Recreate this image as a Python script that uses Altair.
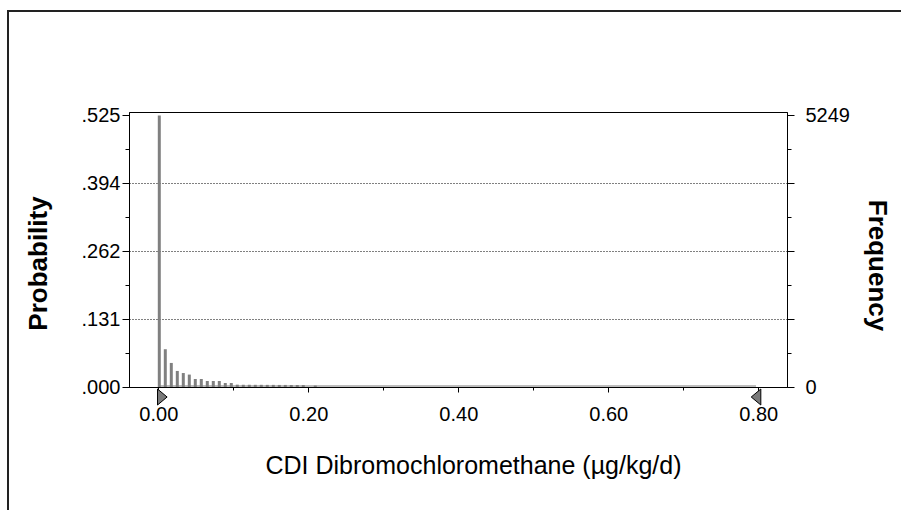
import altair as alt
import pandas as pd

# ---- data ----
trials = 10000
counts = [5249, 730, 465, 310, 270, 240, 155, 155, 116, 116, 116, 77, 77, 45,
          43, 43, 42, 42, 41, 41, 40, 40, 39, 39, 38, 0, 28]
first_center = 0.0013
bin_width = 0.008
range_min = 0.0
range_max = 0.797
x_title = "CDI Dibromochloromethane (\u00b5g/kg/d)"
y_title_left = "Probability"
y_title_right = "Frequency"
y_max_prob = 0.5315
x_domain = [-0.0391, 0.8383]

centers = [first_center + i * bin_width for i in range(len(counts))]
df = pd.DataFrame({"center": centers, "count": counts})
df["prob"] = df["count"] / trials

half_p = counts[0] / trials / 8
half_f = counts[0] / 8
font = "Liberation Sans"

x_scale = alt.Scale(domain=x_domain, nice=False, zero=False, padding=0)
x_axis = alt.Axis(
    values=[i / 10 for i in range(9)],
    labelExpr="round(datum.value*10) % 2 == 0 ? format(datum.value, '.2f') : ''",
    tickSize={"condition": {"test": "round(datum.value*10) % 2 == 1", "value": 3}, "value": 5},
    grid=False, domainColor="black", tickColor="black", labelColor="black",
    labelFont=font, labelFontSize=20, labelPadding=12, labelBaseline="top",
    title=x_title, titleFont=font, titleFontSize=25, titleFontWeight="normal",
    titleColor="black", titleX=344, titleY=86, titleAlign="center",
    titleBaseline="alphabetic", labelFlush=False, labelOverlap=False,
)
x_enc = alt.X("center:Q", scale=x_scale, axis=x_axis, title=x_title)

left_axis = alt.Axis(
    orient="left",
    values=[half_p * k for k in range(9)],
    labelExpr=f"round(datum.value/{half_p}) % 2 == 1 ? '' : replace(format(datum.value, '.3f'), '0.', '.')",
    tickSize={"condition": {"test": f"round(datum.value/{half_p}) % 2 == 1", "value": 4}, "value": 7},
    grid=True, gridColor="black", gridDash=[1, 2], gridWidth=1,
    gridOpacity={"condition": {"test": f"indexof([2,4,6], round(datum.value/{half_p})) >= 0", "value": 1}, "value": 0},
    domainColor="black", tickColor="black", labelColor="black",
    labelFont=font, labelFontSize=20, labelPadding=2, labelOverlap=False, labelFlush=False,
    title=y_title_left, titleFont=font, titleFontSize=26, titleFontWeight="bold",
    titleColor="black", titleAngle=270, titleX=-91, titleY=151,
    titleAlign="center", titleBaseline="middle",
)

right_axis = alt.Axis(
    orient="right",
    values=[half_f * k for k in range(9)],
    labelExpr=f"round(datum.value/{half_f}) % 8 == 0 ? format(datum.value, 'd') : ''",
    tickSize={"condition": {"test": f"round(datum.value/{half_f}) % 2 == 1", "value": 4}, "value": 7},
    grid=False, domainColor="black", tickColor="black", labelColor="black",
    labelFont=font, labelFontSize=20, labelPadding=11, labelOverlap=False, labelFlush=False,
    title=y_title_right, titleFont=font, titleFontSize=26, titleFontWeight="bold",
    titleColor="black", titleAngle=90, titleX=89, titleY=153,
    titleAlign="center", titleBaseline="middle",
)

rng = pd.DataFrame({"lo": [range_min], "hi": [range_max]})
baseline = alt.Chart(rng).mark_rule(color="#7a7a7a", strokeWidth=1).encode(
    x=alt.X("lo:Q", scale=x_scale, axis=x_axis, title=x_title), x2="hi:Q", y=alt.value(274)
)

bars = alt.Chart(df).mark_bar(size=3, color="#808080").encode(
    x=x_enc,
    y=alt.Y("prob:Q", scale=alt.Scale(domain=[0, y_max_prob], nice=False), axis=left_axis),
)

freq = alt.Chart(df).mark_bar(size=3, opacity=0).encode(
    x=x_enc,
    y=alt.Y("count:Q", scale=alt.Scale(domain=[0, y_max_prob * trials], nice=False), axis=right_axis),
)

right_tri = "M-0.6,-1L0.6,0L-0.6,1Z"
left_tri = "M0.6,-1L-0.6,0L0.6,1Z"

tri_left = alt.Chart(pd.DataFrame({"x": [range_min]})).mark_point(
    shape=right_tri, filled=True, size=256, fill="#7a7a7a", stroke="black",
    strokeWidth=1, opacity=1, xOffset=4
).encode(x=alt.X("x:Q", scale=x_scale, axis=x_axis, title=x_title), y=alt.value(285))

tri_right = alt.Chart(pd.DataFrame({"x": [range_max]})).mark_point(
    shape=left_tri, filled=True, size=256, fill="#7a7a7a", stroke="black",
    strokeWidth=1, opacity=1, xOffset=0
).encode(x=alt.X("x:Q", scale=x_scale, axis=x_axis, title=x_title), y=alt.value(285))

one = alt.Data(values=[{"a": 1}])
frame_v = alt.Chart(one).mark_rule(color="#222222", strokeWidth=2).encode(
    x=alt.value(-121), y=alt.value(-101), y2=alt.value(400)
)
frame_h = alt.Chart(one).mark_rule(color="#222222", strokeWidth=2).encode(
    x=alt.value(-122), x2=alt.value(780), y=alt.value(-101)
)

chart = alt.layer(
    baseline, bars, freq, tri_left, tri_right, frame_v, frame_h
).resolve_scale(y="independent").properties(
    width=658, height=275,
    padding={"left": 129, "top": 112, "right": 114, "bottom": 123},
    autosize=alt.AutoSizeParams(type="none"),
    background="white",
).configure_view(stroke="black", strokeWidth=1)

chart.save("out.html", embed_options={"renderer": "svg", "actions": False})
